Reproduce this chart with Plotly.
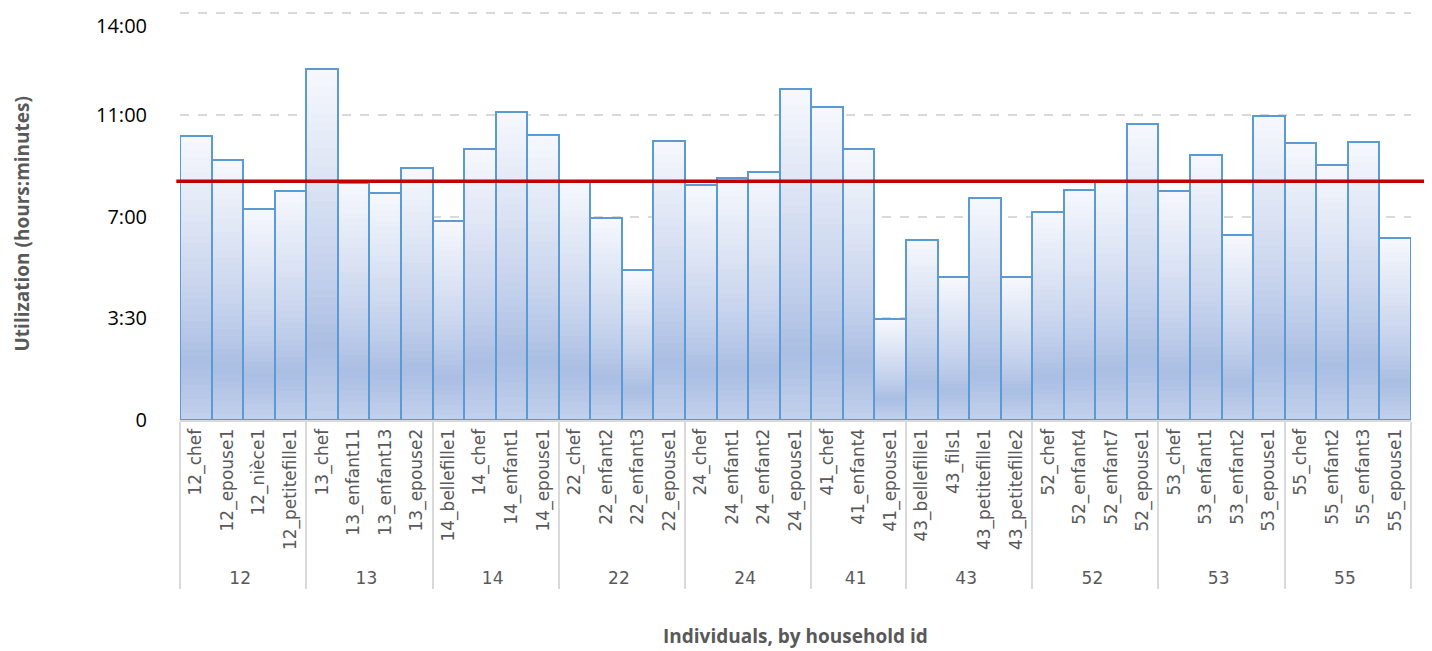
import plotly.graph_objects as go

# ---- data ----
households = ["12"] * 4 + ["13"] * 4 + ["14"] * 4 + ["22"] * 4 + ["24"] * 4 + \
             ["41"] * 3 + ["43"] * 4 + ["52"] * 4 + ["53"] * 4 + ["55"] * 4
individuals = [
    "12_chef", "12_epouse1", "12_nièce1", "12_petitefille1",
    "13_chef", "13_enfant11", "13_enfant13", "13_epouse2",
    "14_bellefille1", "14_chef", "14_enfant1", "14_epouse1",
    "22_chef", "22_enfant2", "22_enfant3", "22_epouse1",
    "24_chef", "24_enfant1", "24_enfant2", "24_epouse1",
    "41_chef", "41_enfant4", "41_epouse1",
    "43_bellefille1", "43_fils1", "43_petitefille1", "43_petitefille2",
    "52_chef", "52_enfant4", "52_enfant7", "52_epouse1",
    "53_chef", "53_enfant1", "53_enfant2", "53_epouse1",
    "55_chef", "55_enfant2", "55_enfant3", "55_epouse1",
]
hours = [
    9.77, 8.94, 7.26, 7.88,
    12.07, 8.15, 7.81, 8.67,
    6.85, 9.32, 10.60, 9.80,
    8.22, 6.95, 5.16, 9.60,
    8.08, 8.32, 8.53, 11.39,
    10.77, 9.32, 3.47,
    6.19, 4.92, 7.64, 4.92,
    7.16, 7.91, 8.19, 10.18,
    7.88, 9.12, 6.36, 10.46,
    9.53, 8.77, 9.56, 6.26,
]
average_hours = 8.22
y_tickvals = [0, 3.5, 7, 10.5, 14]
y_ticktext = ["0", "3:30", "7:00", "11:00", "<br>14:00"]

# ---- gradient helper (fraction from top of bar -> colour) ----
stops = [(0.0, (246, 248, 253)), (0.5, (204, 215, 238)),
         (0.8, (170, 190, 227)), (1.0, (195, 209, 236))]


def grad(f):
    for (f0, c0), (f1, c1) in zip(stops[:-1], stops[1:]):
        if f0 <= f <= f1:
            t = (f - f0) / (f1 - f0) if f1 > f0 else 0
            c = [round(a + (b - a) * t) for a, b in zip(c0, c1)]
            return "rgb(%d,%d,%d)" % tuple(c)
    return "rgb(%d,%d,%d)" % stops[-1][1]


x = [households, individuals]
fig = go.Figure()
N = 40
for k in range(N):
    frac = (N - k) / N
    fig.add_trace(go.Bar(
        x=x, y=[v * frac for v in hours],
        marker=dict(color=grad((k + 0.5) / N), line=dict(width=0)),
        showlegend=False, hoverinfo="skip",
    ))
# outline
fig.add_trace(go.Bar(
    x=x, y=hours,
    marker=dict(color="rgba(0,0,0,0)", line=dict(color="#5b9bd5", width=2)),
    showlegend=False,
))

fig.add_shape(type="line", xref="paper", yref="y",
              x0=-0.003, x1=1.013, y0=average_hours, y1=average_hours,
              line=dict(color="#c00000", width=3.5), layer="above")

fig.add_annotation(text="<b>Individuals, by household id</b>", xref="paper", yref="paper",
                   x=0.5, y=-0.528, xanchor="center", yanchor="middle", showarrow=False,
                   font=dict(family="Open Sans", size=19, color="#595959"))
fig.add_annotation(text="<b>Utilization (hours:minutes)</b>", xref="paper", yref="paper",
                   x=-0.128, y=0.479, xanchor="center", yanchor="middle", showarrow=False,
                   textangle=-90, font=dict(family="Open Sans", size=19, color="#595959"))

fig.update_layout(
    width=1424, height=643,
    margin=dict(l=172, r=21, t=3, b=231),
    barmode="overlay", bargap=0,
    plot_bgcolor="white", paper_bgcolor="white",
    font=dict(family="Open Sans", color="#595959"),
    xaxis=dict(
        type="multicategory", tickangle=-90,
        tickfont=dict(family="DejaVu Sans", size=17, color="#595959"),
        showline=True, linecolor="#d9d9d9", linewidth=2,
        showdividers=True, dividercolor="#d9d9d9", dividerwidth=2,
        ticks="", automargin=False,
    ),
    yaxis=dict(
        range=[0, 14.08], tickvals=y_tickvals, ticktext=y_ticktext,
        tickfont=dict(family="Open Sans", size=20, color="#000000"),
        showgrid=True, gridcolor="#d9d9d9", griddash="dash", gridwidth=1.5,
        zeroline=False, ticks="", ticklen=0, automargin=False,
        ticklabelstandoff=32, ticklabeloverflow="allow",
    ),
)
fig.write_html("out.html")
